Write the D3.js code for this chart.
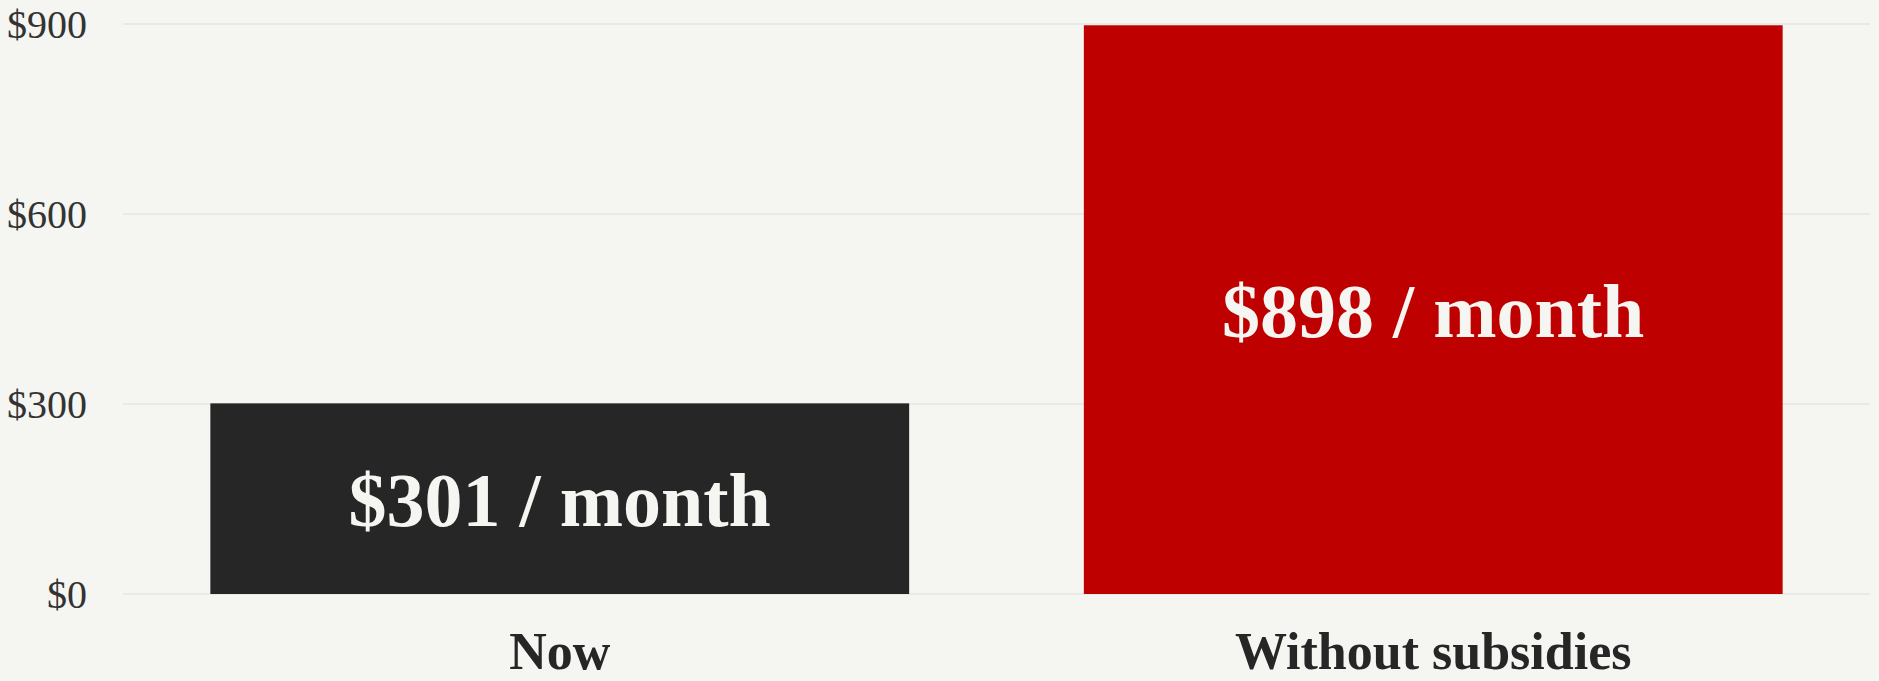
<!DOCTYPE html>
<html lang="en">
<head>
    <meta charset="UTF-8">
    <title>subsidies bar chart</title>
    <script src="https://d3js.org/d3.v7.min.js"></script>
    <style>
        html, body {
            margin: 0;
            padding: 0;
            background: #f5f5f1;
        }
        svg {
            display: block;
        }
        .tick-label {
            font-family: "Liberation Serif", "Times New Roman", serif;
            font-size: 40px;
            fill: #333333;
        }
        .cat-label {
            font-family: "Liberation Serif", "Times New Roman", serif;
            font-size: 52px;
            font-weight: bold;
            fill: #262626;
        }
        .bar-label {
            font-family: "Liberation Serif", "Times New Roman", serif;
            font-size: 76px;
            font-weight: bold;
            fill: #f5f5f1;
        }
    </style>
</head>
<body>
<svg id="chart" width="1879" height="681"></svg>
<script>
    // data
    let categories = ["Now", "Without subsidies"];
    let values = [301, 898];
    let barLabels = ["$301 / month", "$898 / month"];
    let barColors = ["#262626", "#bf0000"];
    let yTicks = [0, 300, 600, 900];

    const width = 1879, height = 681;
    const margin = {top: 24, right: 9, bottom: 87, left: 123};

    let svg = d3.select("#chart");

    let x = d3.scaleBand()
        .domain(categories)
        .range([margin.left, width - margin.right])
        .paddingInner(0.2)
        .paddingOuter(0.1);

    let y = d3.scaleLinear()
        .domain([0, 900])
        .range([height - margin.bottom, margin.top]);

    // gridlines
    svg.append("g")
        .selectAll("line")
        .data(yTicks)
        .join("line")
        .attr("x1", margin.left)
        .attr("x2", width - margin.right)
        .attr("y1", d => y(d))
        .attr("y2", d => y(d))
        .attr("stroke", "#e5e5e2")
        .attr("stroke-width", 1.5);

    // y tick labels
    svg.append("g")
        .selectAll("text")
        .data(yTicks)
        .join("text")
        .attr("class", "tick-label")
        .attr("x", margin.left - 36)
        .attr("y", d => y(d))
        .attr("dy", "0.34em")
        .attr("text-anchor", "end")
        .text(d => "$" + d);

    // bars
    svg.append("g")
        .selectAll("rect")
        .data(values)
        .join("rect")
        .attr("x", (d, i) => x(categories[i]))
        .attr("width", x.bandwidth())
        .attr("y", d => y(d))
        .attr("height", d => y(0) - y(d))
        .attr("fill", (d, i) => barColors[i]);

    // labels inside bars
    svg.append("g")
        .selectAll("text")
        .data(values)
        .join("text")
        .attr("class", "bar-label")
        .attr("x", (d, i) => x(categories[i]) + x.bandwidth() / 2)
        .attr("y", d => (y(d) + y(0)) / 2)
        .attr("dy", "0.36em")
        .attr("text-anchor", "middle")
        .text((d, i) => barLabels[i]);

    // category labels (kept just inside the bottom edge)
    svg.append("g")
        .selectAll("text")
        .data(categories)
        .join("text")
        .attr("class", "cat-label")
        .attr("x", d => x(d) + x.bandwidth() / 2)
        .attr("y", y(0) + 75)
        .attr("text-anchor", "middle")
        .text(d => d);
</script>
</body>
</html>
